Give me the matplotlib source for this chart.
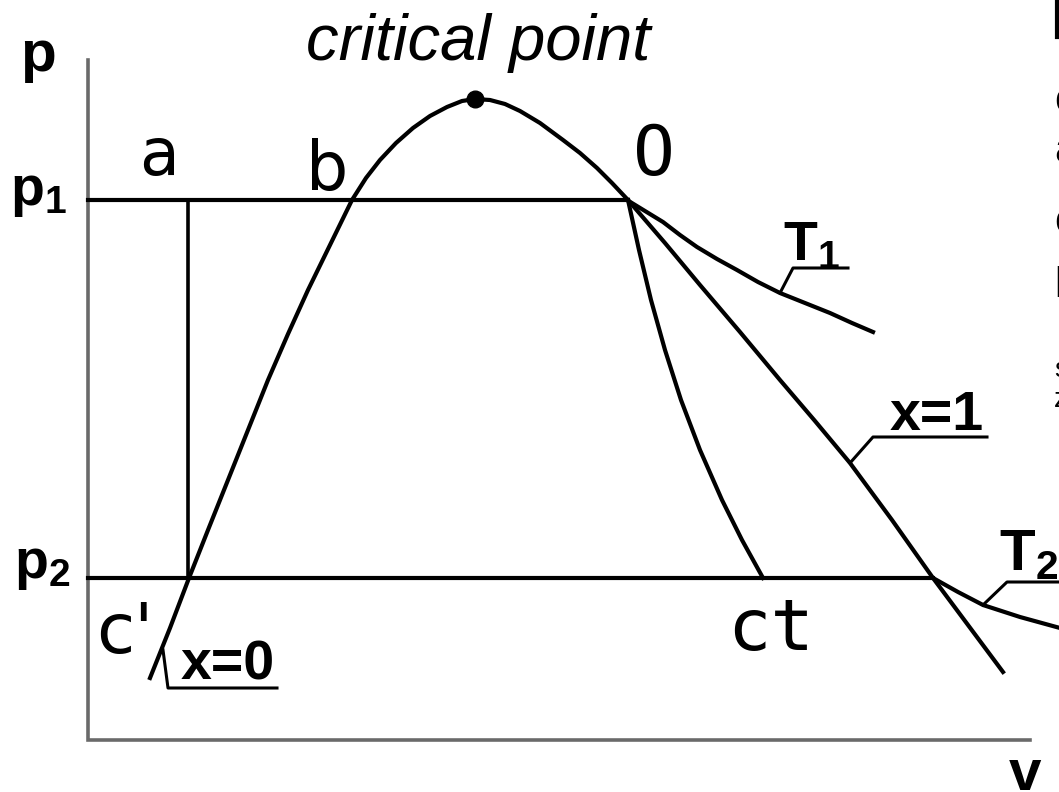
import matplotlib.pyplot as plt

plt.rcParams['mathtext.fontset'] = 'custom'
plt.rcParams['mathtext.bf'] = 'Liberation Sans:bold'
plt.rcParams['mathtext.rm'] = 'Liberation Sans:bold'

# diagram, in pixel units (v to the right, p downwards)
axis_v = [88, 88, 1030]
axis_p = [60, 740, 740]

# saturation dome: x=0 branch, critical point, x=1 branch
dome_v = [150, 170, 189, 208, 228, 248, 268, 288, 308, 330, 352, 366, 380, 396,
          413, 430, 447, 462, 475, 490, 505, 520, 540, 563, 580, 597, 612, 628,
          665, 700, 740, 780, 815, 850, 892, 933, 968, 1003]
dome_p = [678, 628, 578, 530, 480, 430, 380, 334, 290, 245, 200, 178, 160, 143,
          128, 116, 107, 101, 99, 100, 104, 111, 123, 140, 153, 168, 183, 200,
          243, 285, 332, 380, 421, 463, 520, 578, 625, 672]
crit_v, crit_p = 475, 99

# isobars p1 and p2, vertical a - c'
p1, p2 = 200, 578
p1_v = [88, 628]
p2_v = [88, 933]
a_v = 188

# isotherm T1 beyond point O
t1_v = [627, 645, 663, 680, 697, 717, 737, 758, 780, 805, 830, 852, 873]
t1_p = [200, 211, 222, 235, 247, 259, 270, 282, 293, 303, 313, 323, 332]

# line O - ct
ct_v = [628, 639, 651, 665, 681, 700, 722, 742, 763]
ct_p = [200, 250, 300, 350, 400, 450, 500, 540, 578]

# isotherm T2 beyond x=1
t2_v = [933, 958, 983, 1020, 1060]
t2_p = [578, 592, 605, 617, 628]

# label leaders
lead_t1 = ([780, 793, 848], [293, 268, 268])
lead_x1 = ([850, 873, 987], [463, 437, 437])
lead_t2 = ([983, 1007, 1060], [605, 582, 582])
lead_x0 = ([163, 168, 277], [650, 688, 688])

fig = plt.figure(figsize=(10.59, 7.92), dpi=100)
ax = fig.add_axes([0, 0, 1, 1])
ax.set_xlim(0, 1059)
ax.set_ylim(792, 0)
ax.axis('off')

lw = 3.0
ax.plot(axis_v, axis_p, color='#6a6a6a', lw=2.6, solid_joinstyle='miter')
ax.plot(dome_v, dome_p, color='black', lw=lw, solid_joinstyle='round')
ax.plot(p1_v, [p1, p1], color='black', lw=lw)
ax.plot(p2_v, [p2, p2], color='black', lw=lw)
ax.plot([a_v, a_v], [p1, p2], color='black', lw=2.6)
ax.plot(t1_v, t1_p, color='black', lw=lw, solid_joinstyle='round')
ax.plot(ct_v, ct_p, color='black', lw=lw, solid_joinstyle='round')
ax.plot(t2_v, t2_p, color='black', lw=lw, solid_joinstyle='round')
for lv, lp in [lead_t1, lead_x1, lead_t2, lead_x0]:
    ax.plot(lv, lp, color='black', lw=2.2)
ax.plot([crit_v], [crit_p], 'o', color='black', markersize=12)

# texts
ax.text(478, 60, 'critical point', fontsize=47, style='italic',
        family='Liberation Sans', ha='center', va='baseline')
ax.text(159, 175, 'a', fontsize=47, family='DejaVu Sans', ha='center', va='baseline')
ax.text(327, 190, 'b', fontsize=48, family='DejaVu Sans', ha='center', va='baseline')
ax.text(654, 175, 'O', fontsize=50, family='DejaVu Sans Mono', ha='center', va='baseline')
ax.text(771, 650, 'ct', fontsize=52, family='DejaVu Sans Mono', ha='center', va='baseline')
ax.text(96, 653, "c'", fontsize=50, family='DejaVu Sans', ha='left', va='baseline')

ax.text(38, 71, r'$\mathbf{p}$', fontsize=42, ha='center', va='baseline')
ax.text(39, 205, r'$\mathbf{p_1}$', fontsize=40, ha='center', va='baseline')
ax.text(42, 578, r'$\mathbf{p_2}$', fontsize=40, ha='center', va='baseline')
ax.text(1025, 790, 'v', fontsize=42, weight='bold', family='Liberation Sans',
        ha='center', va='baseline')

ax.text(812, 260, r'$\mathbf{T_1}$', fontsize=40, ha='center', va='baseline')
ax.text(1029, 570, r'$\mathbf{T_2}$', fontsize=42, ha='center', va='baseline')
ax.text(937, 430, 'x=1', fontsize=40, weight='bold', family='Liberation Sans',
        ha='center', va='baseline')
ax.text(228, 680, 'x=0', fontsize=40, weight='bold', family='Liberation Sans',
        ha='center', va='baseline')

# cut-off text at the right edge of the source picture
edge_chars = ['c', 'a', 'c', 'l', 's', 'z']
edge_base = [112, 162, 233, 297, 377, 407]
edge_size = [30, 30, 30, 30, 20, 20]
for ch, yb, fs in zip(edge_chars, edge_base, edge_size):
    ax.text(1054, yb, ch, fontsize=fs, family='Liberation Sans', ha='left', va='baseline')
ax.plot([1057, 1057], [0, 37], color='black', lw=3)

fig.savefig('out.png', dpi=100)
